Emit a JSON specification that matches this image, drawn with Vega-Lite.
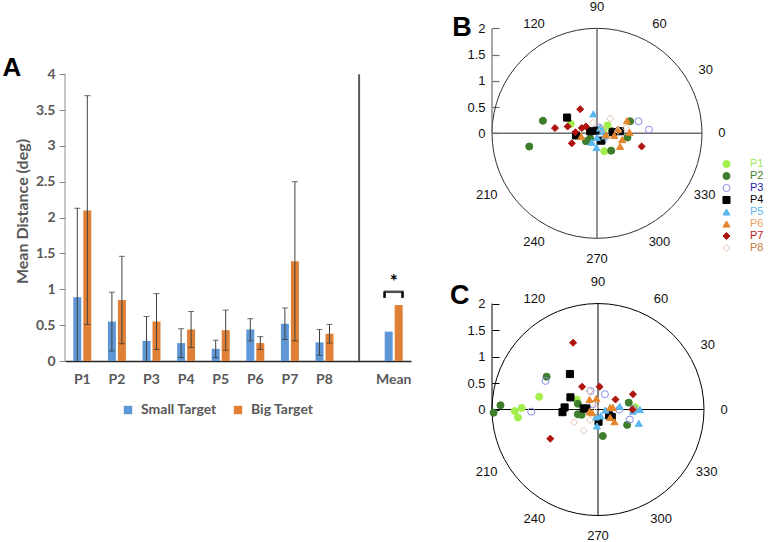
{
  "$schema": "https://vega.github.io/schema/vega-lite/v6.json",
  "padding": {"left": 2, "top": 1, "right": 0, "bottom": 0},
  "background": "white",
  "config": {"view": {"stroke": null}, "axis": {"grid": false}},
  "datasets": {
    "bars": [
      {"cat": "P1", "target": "Small Target", "value": 0.89, "lo": 0, "hi": 2.13},
      {"cat": "P1", "target": "Big Target", "value": 2.10, "lo": 0.51, "hi": 3.70},
      {"cat": "P2", "target": "Small Target", "value": 0.55, "lo": 0.14, "hi": 0.96},
      {"cat": "P2", "target": "Big Target", "value": 0.85, "lo": 0.24, "hi": 1.46},
      {"cat": "P3", "target": "Small Target", "value": 0.28, "lo": 0, "hi": 0.62},
      {"cat": "P3", "target": "Big Target", "value": 0.55, "lo": 0.16, "hi": 0.94},
      {"cat": "P4", "target": "Small Target", "value": 0.25, "lo": 0.05, "hi": 0.45},
      {"cat": "P4", "target": "Big Target", "value": 0.44, "lo": 0.19, "hi": 0.69},
      {"cat": "P5", "target": "Small Target", "value": 0.17, "lo": 0.05, "hi": 0.29},
      {"cat": "P5", "target": "Big Target", "value": 0.43, "lo": 0.15, "hi": 0.71},
      {"cat": "P6", "target": "Small Target", "value": 0.44, "lo": 0.28, "hi": 0.59},
      {"cat": "P6", "target": "Big Target", "value": 0.25, "lo": 0.16, "hi": 0.34},
      {"cat": "P7", "target": "Small Target", "value": 0.52, "lo": 0.30, "hi": 0.74},
      {"cat": "P7", "target": "Big Target", "value": 1.39, "lo": 0.28, "hi": 2.50},
      {"cat": "P8", "target": "Small Target", "value": 0.26, "lo": 0.08, "hi": 0.44},
      {"cat": "P8", "target": "Big Target", "value": 0.38, "lo": 0.25, "hi": 0.51},
      {"cat": "Mean", "target": "Small Target", "value": 0.41},
      {"cat": "Mean", "target": "Big Target", "value": 0.78}
    ],
    "ang": [
      {"t": "90", "x": 0, "y": 2.40},
      {"t": "120", "x": -1.2, "y": 2.09},
      {"t": "60", "x": 1.19, "y": 2.09},
      {"t": "30", "x": 2.07, "y": 1.21},
      {"t": "0", "x": 2.38, "y": 0},
      {"t": "330", "x": 2.05, "y": -1.17},
      {"t": "300", "x": 1.19, "y": -2.07},
      {"t": "270", "x": 0, "y": -2.39},
      {"t": "240", "x": -1.2, "y": -2.07},
      {"t": "210", "x": -2.1, "y": -1.17}
    ],
    "pts": [
      {"panel": "B", "p": "P1", "x": -0.50, "y": 0.18},
      {"panel": "B", "p": "P1", "x": 0.14, "y": -0.34},
      {"panel": "B", "p": "P1", "x": 0.20, "y": 0.15},
      {"panel": "B", "p": "P1", "x": 0.12, "y": 0.05},
      {"panel": "B", "p": "P2", "x": -1.03, "y": 0.24},
      {"panel": "B", "p": "P2", "x": -1.29, "y": -0.25},
      {"panel": "B", "p": "P2", "x": -0.21, "y": -0.15},
      {"panel": "B", "p": "P2", "x": -0.13, "y": -0.10},
      {"panel": "B", "p": "P2", "x": 0.27, "y": -0.33},
      {"panel": "B", "p": "P2", "x": 0.63, "y": 0.23},
      {"panel": "B", "p": "P2", "x": 0.58, "y": -0.08},
      {"panel": "B", "p": "P2", "x": 0.29, "y": 0.04},
      {"panel": "B", "p": "P3", "x": 0.79, "y": 0.23},
      {"panel": "B", "p": "P3", "x": 0.99, "y": 0.07},
      {"panel": "B", "p": "P3", "x": 0.04, "y": 0.11},
      {"panel": "B", "p": "P3", "x": 0.11, "y": -0.14},
      {"panel": "B", "p": "P3", "x": 0.05, "y": -0.05},
      {"panel": "B", "p": "P4", "x": -0.57, "y": 0.30},
      {"panel": "B", "p": "P4", "x": -0.40, "y": -0.04},
      {"panel": "B", "p": "P4", "x": -0.13, "y": 0.04},
      {"panel": "B", "p": "P4", "x": 0.08, "y": -0.14},
      {"panel": "B", "p": "P4", "x": 0.44, "y": 0.04},
      {"panel": "B", "p": "P4", "x": 0.30, "y": 0.02},
      {"panel": "B", "p": "P4", "x": 0.0, "y": 0.05},
      {"panel": "B", "p": "P5", "x": -0.07, "y": 0.37},
      {"panel": "B", "p": "P5", "x": -0.10, "y": -0.17},
      {"panel": "B", "p": "P5", "x": -0.01, "y": -0.27},
      {"panel": "B", "p": "P5", "x": 0.11, "y": 0.04},
      {"panel": "B", "p": "P5", "x": 0.0, "y": -0.08},
      {"panel": "B", "p": "P5", "x": 0.06, "y": 0.10},
      {"panel": "B", "p": "P5", "x": 0.15, "y": -0.05},
      {"panel": "B", "p": "P6", "x": -0.30, "y": -0.06},
      {"panel": "B", "p": "P6", "x": 0.57, "y": 0.24},
      {"panel": "B", "p": "P6", "x": 0.62, "y": 0.02},
      {"panel": "B", "p": "P6", "x": 0.48, "y": -0.12},
      {"panel": "B", "p": "P6", "x": 0.44, "y": -0.25},
      {"panel": "B", "p": "P6", "x": 0.33, "y": -0.04},
      {"panel": "B", "p": "P6", "x": 0.17, "y": -0.03},
      {"panel": "B", "p": "P6", "x": 0.40, "y": 0.08},
      {"panel": "B", "p": "P7", "x": -0.32, "y": 0.46},
      {"panel": "B", "p": "P7", "x": -0.80, "y": 0.10},
      {"panel": "B", "p": "P7", "x": -0.56, "y": 0.13},
      {"panel": "B", "p": "P7", "x": -0.48, "y": -0.19},
      {"panel": "B", "p": "P7", "x": -0.29, "y": 0.10},
      {"panel": "B", "p": "P7", "x": -0.21, "y": 0.13},
      {"panel": "B", "p": "P7", "x": 0.85, "y": -0.25},
      {"panel": "B", "p": "P7", "x": -0.41, "y": 0.02},
      {"panel": "B", "p": "P8", "x": -0.08, "y": 0.20},
      {"panel": "B", "p": "P8", "x": 0.25, "y": 0.28},
      {"panel": "B", "p": "P8", "x": 0.40, "y": 0.05},
      {"panel": "B", "p": "P8", "x": 0.10, "y": 0.08},
      {"panel": "B", "p": "P8", "x": 0.55, "y": 0.10},
      {"panel": "C", "p": "P1", "x": -1.11, "y": 0.24},
      {"panel": "C", "p": "P1", "x": -1.44, "y": 0.03},
      {"panel": "C", "p": "P1", "x": -1.57, "y": -0.03},
      {"panel": "C", "p": "P1", "x": -1.51, "y": -0.15},
      {"panel": "C", "p": "P1", "x": -0.40, "y": 0.19},
      {"panel": "C", "p": "P1", "x": 0.70, "y": 0.04},
      {"panel": "C", "p": "P2", "x": -1.97, "y": -0.06},
      {"panel": "C", "p": "P2", "x": -1.84, "y": 0.08},
      {"panel": "C", "p": "P2", "x": -0.97, "y": 0.62},
      {"panel": "C", "p": "P2", "x": -0.38, "y": 0.11},
      {"panel": "C", "p": "P2", "x": -0.38, "y": -0.09},
      {"panel": "C", "p": "P2", "x": -0.31, "y": -0.10},
      {"panel": "C", "p": "P2", "x": 0.09, "y": -0.50},
      {"panel": "C", "p": "P2", "x": 0.58, "y": 0.13},
      {"panel": "C", "p": "P2", "x": 0.55, "y": -0.29},
      {"panel": "C", "p": "P3", "x": -0.99, "y": 0.54},
      {"panel": "C", "p": "P3", "x": -1.26, "y": -0.04},
      {"panel": "C", "p": "P3", "x": -0.14, "y": 0.35},
      {"panel": "C", "p": "P3", "x": 0.13, "y": 0.29},
      {"panel": "C", "p": "P3", "x": 0.40, "y": 0.0},
      {"panel": "C", "p": "P3", "x": 0.60, "y": -0.19},
      {"panel": "C", "p": "P3", "x": 0.67, "y": 0.01},
      {"panel": "C", "p": "P3", "x": -0.10, "y": 0.10},
      {"panel": "C", "p": "P4", "x": -0.53, "y": 0.67},
      {"panel": "C", "p": "P4", "x": -0.52, "y": 0.23},
      {"panel": "C", "p": "P4", "x": -0.63, "y": 0.04},
      {"panel": "C", "p": "P4", "x": -0.67, "y": -0.05},
      {"panel": "C", "p": "P4", "x": -0.27, "y": 0.02},
      {"panel": "C", "p": "P4", "x": -0.22, "y": 0.02},
      {"panel": "C", "p": "P4", "x": 0.01, "y": -0.23},
      {"panel": "C", "p": "P4", "x": 0.21, "y": -0.11},
      {"panel": "C", "p": "P4", "x": 0.26, "y": -0.14},
      {"panel": "C", "p": "P5", "x": -0.04, "y": -0.14},
      {"panel": "C", "p": "P5", "x": -0.02, "y": -0.31},
      {"panel": "C", "p": "P5", "x": 0.14, "y": -0.01},
      {"panel": "C", "p": "P5", "x": 0.41, "y": 0.06},
      {"panel": "C", "p": "P5", "x": 0.66, "y": -0.03},
      {"panel": "C", "p": "P5", "x": 0.79, "y": 0.0},
      {"panel": "C", "p": "P5", "x": 0.77, "y": -0.26},
      {"panel": "C", "p": "P5", "x": 0.05, "y": -0.12},
      {"panel": "C", "p": "P6", "x": -0.16, "y": 0.19},
      {"panel": "C", "p": "P6", "x": -0.03, "y": 0.21},
      {"panel": "C", "p": "P6", "x": -0.16, "y": -0.04},
      {"panel": "C", "p": "P6", "x": -0.11, "y": -0.06},
      {"panel": "C", "p": "P6", "x": 0.23, "y": 0.04},
      {"panel": "C", "p": "P6", "x": 0.28, "y": 0.04},
      {"panel": "C", "p": "P6", "x": 0.31, "y": -0.23},
      {"panel": "C", "p": "P6", "x": 0.23, "y": -0.15},
      {"panel": "C", "p": "P7", "x": -0.47, "y": 1.26},
      {"panel": "C", "p": "P7", "x": -0.30, "y": 0.43},
      {"panel": "C", "p": "P7", "x": 0.03, "y": 0.43},
      {"panel": "C", "p": "P7", "x": 0.33, "y": 0.19},
      {"panel": "C", "p": "P7", "x": 0.66, "y": 0.29},
      {"panel": "C", "p": "P7", "x": 0.65, "y": 0.0},
      {"panel": "C", "p": "P7", "x": -0.90, "y": -0.55},
      {"panel": "C", "p": "P8", "x": -0.16, "y": 0.35},
      {"panel": "C", "p": "P8", "x": -0.45, "y": -0.24},
      {"panel": "C", "p": "P8", "x": -0.27, "y": -0.40},
      {"panel": "C", "p": "P8", "x": -0.15, "y": -0.20},
      {"panel": "C", "p": "P8", "x": -0.05, "y": 0.05}
    ]
  },
  "resolve": {"scale": {"color": "independent", "fill": "independent", "stroke": "independent", "shape": "independent"}},
  "spacing": 38,
  "hconcat": [
    {
      "width": 346,
      "height": 360,
      "title": {"text": "A", "anchor": "start", "frame": "bounds", "orient": "top", "baseline": "top", "offset": 0, "dx": -12, "dy": 80, "font": "Liberation Sans", "fontSize": 26, "fontWeight": "bold", "color": "#000000"},
      "layer": [
        {
          "data": {"name": "bars"},
          "mark": {"type": "bar"},
          "encoding": {
            "x": {"field": "cat", "type": "nominal", "title": null,
              "scale": {"domain": ["P1", "P2", "P3", "P4", "P5", "P6", "P7", "P8", " ", "Mean"], "paddingInner": 0, "paddingOuter": 0},
              "axis": {"ticks": false, "domainColor": "#262626", "domainWidth": 1.5, "labelFont": "Lato", "labelFontSize": 14, "labelFontWeight": "bold", "labelColor": "#595959", "labelPadding": 11, "labelAngle": 0}},
            "xOffset": {"field": "target", "type": "nominal", "scale": {"domain": ["Small Target", "Big Target"], "paddingInner": 0.2, "paddingOuter": 0.83}},
            "y": {"field": "value", "type": "quantitative", "scale": {"domain": [0, 5.02], "nice": false},
              "axis": {"values": [0, 0.5, 1, 1.5, 2, 2.5, 3, 3.5, 4], "format": "~g", "domain": false, "tickSize": 6, "tickColor": "#8c8c8c", "labelFont": "Lato", "labelFontSize": 14, "labelFontWeight": "bold", "labelColor": "#595959", "labelPadding": 4, "title": "Mean Distance (deg)", "titleFont": "Lato", "titleFontSize": 16, "titleFontWeight": "bold", "titleColor": "#595959", "titleY": 210, "titlePadding": 5}},
            "color": {"field": "target", "type": "nominal", "scale": {"domain": ["Small Target", "Big Target"], "range": ["#5f97d6", "#e08036"]},
              "legend": {"orient": "none", "legendX": 56, "legendY": 402, "direction": "horizontal", "title": null, "symbolType": "square", "symbolSize": 70, "symbolStrokeWidth": 0, "labelFont": "Lato", "labelFontSize": 14, "labelFontWeight": "bold", "labelColor": "#595959", "labelOffset": 6, "columnPadding": 14, "padding": 0}}
          }
        },
        {
          "data": {"name": "bars"},
          "transform": [{"filter": "datum.hi != null"}],
          "mark": {"type": "rule", "color": "#404040", "strokeWidth": 1},
          "encoding": {
            "x": {"field": "cat", "type": "nominal"},
            "xOffset": {"field": "target", "type": "nominal"},
            "y": {"field": "lo", "type": "quantitative"},
            "y2": {"field": "hi"}
          }
        },
        {
          "data": {"name": "bars"},
          "transform": [{"filter": "datum.hi != null"}],
          "mark": {"type": "tick", "orient": "horizontal", "size": 6, "thickness": 1, "color": "#303030"},
          "encoding": {
            "x": {"field": "cat", "type": "nominal"},
            "xOffset": {"field": "target", "type": "nominal"},
            "y": {"field": "hi", "type": "quantitative"}
          }
        },
        {
          "data": {"name": "bars"},
          "transform": [{"filter": "datum.hi != null && datum.lo > 0"}],
          "mark": {"type": "tick", "orient": "horizontal", "size": 6, "thickness": 1, "color": "#303030"},
          "encoding": {
            "x": {"field": "cat", "type": "nominal"},
            "xOffset": {"field": "target", "type": "nominal"},
            "y": {"field": "lo", "type": "quantitative"}
          }
        },
        {
          "data": {"values": [{}]},
          "mark": {"type": "rule", "color": "#595959", "strokeWidth": 2},
          "encoding": {"x": {"datum": " ", "type": "nominal"}, "y": {"datum": 0}, "y2": {"datum": 4}}
        },
        {
          "data": {"values": [{}]},
          "mark": {"type": "rule", "color": "#8c8c8c", "strokeWidth": 1},
          "encoding": {"x": {"datum": "P1", "type": "nominal", "bandPosition": 0}, "y": {"datum": 0}, "y2": {"datum": 4}}
        },
        {
          "data": {"values": [{"cat": "Mean", "lo": 0.88, "hi": 0.965}]},
          "mark": {"type": "rule", "color": "#000000", "strokeWidth": 2.5},
          "encoding": {
            "x": {"field": "cat", "type": "nominal", "bandPosition": 0.235},
            "y": {"field": "lo", "type": "quantitative"},
            "y2": {"field": "hi"}
          }
        },
        {
          "data": {"values": [{"cat": "Mean", "lo": 0.88, "hi": 0.965}]},
          "mark": {"type": "rule", "color": "#000000", "strokeWidth": 2.5},
          "encoding": {
            "x": {"field": "cat", "type": "nominal", "bandPosition": 0.755},
            "y": {"field": "lo", "type": "quantitative"},
            "y2": {"field": "hi"}
          }
        },
        {
          "data": {"values": [{"cat": "Mean", "v": 0.965}]},
          "mark": {"type": "tick", "orient": "horizontal", "size": 20, "thickness": 2.5, "color": "#000000"},
          "encoding": {"x": {"field": "cat", "type": "nominal"}, "y": {"field": "v", "type": "quantitative"}}
        },
        {
          "data": {"values": [{"cat": "Mean", "v": 1.1, "t": "*"}]},
          "mark": {"type": "text", "font": "Lato", "fontSize": 19, "fontWeight": "bold", "color": "#000000"},
          "encoding": {"x": {"field": "cat", "type": "nominal"}, "y": {"field": "v", "type": "quantitative"}, "text": {"field": "t"}}
        }
      ]
    },
    {
      "spacing": 10,
      "resolve": {"scale": {"fill": "independent", "stroke": "independent", "shape": "independent"}},
      "vconcat": [
        {
          "width": 241.5,
          "height": 263.6,
          "layer": [
            {
              "data": {"values": [{"x": 0, "y": 0}]},
              "mark": {"type": "point", "shape": "circle", "filled": false, "size": 44100, "stroke": "#333333", "strokeWidth": 1, "opacity": 1},
              "encoding": {
                "x": {"field": "x", "type": "quantitative", "scale": {"domain": [-2, 2.6], "nice": false, "zero": false}, "axis": null},
                "y": {"field": "y", "type": "quantitative", "scale": {"domain": [-2.5, 2.52], "nice": false, "zero": false},
                  "axis": {"values": [0, 0.5, 1, 1.5, 2], "labelExpr": "datum.value + ''", "domain": false, "title": null, "tickSize": -7, "tickColor": "#6e6e6e", "tickWidth": 1.2, "labelPadding": 14, "labelFont": "Liberation Sans", "labelFontSize": 13, "labelColor": "#111111"}}
              }
            },
            {
              "data": {"values": [{}]},
              "mark": {"type": "rule", "color": "#6e6e6e", "strokeWidth": 1.5},
              "encoding": {"x": {"datum": -2}, "x2": {"datum": 2}, "y": {"datum": 0}}
            },
            {
              "data": {"values": [{}]},
              "mark": {"type": "rule", "color": "#6e6e6e", "strokeWidth": 1.5},
              "encoding": {"x": {"datum": 0}, "y": {"datum": -2}, "y2": {"datum": 2}}
            },
            {
              "data": {"values": [{}]},
              "mark": {"type": "rule", "color": "#6e6e6e", "strokeWidth": 1.2},
              "encoding": {"x": {"datum": -2}, "y": {"datum": 0}, "y2": {"datum": 2}}
            },
            {
              "data": {"name": "ang"},
              "mark": {"type": "text", "font": "Liberation Sans", "fontSize": 13, "color": "#111111"},
              "encoding": {"x": {"field": "x", "type": "quantitative"}, "y": {"field": "y", "type": "quantitative"}, "text": {"field": "t"}}
            },
            {
              "data": {"values": [{"t": "B", "x": -2.57, "y": 2.0}]},
              "mark": {"type": "text", "font": "Liberation Sans", "fontSize": 27, "fontWeight": "bold", "color": "#000000"},
              "encoding": {"x": {"field": "x", "type": "quantitative"}, "y": {"field": "y", "type": "quantitative"}, "text": {"field": "t"}}
            },
            {
              "data": {"name": "pts"},
              "transform": [{"filter": "datum.panel == 'B'"}],
              "mark": {"type": "point", "size": 50, "strokeWidth": 1, "opacity": 1, "fillOpacity": 1},
              "encoding": {
                "x": {"field": "x", "type": "quantitative"},
                "y": {"field": "y", "type": "quantitative"},
                "fill": {"field": "p", "type": "nominal",
                  "scale": {"domain": ["P1", "P2", "P3", "P4", "P5", "P6", "P7", "P8"], "range": ["#a3ee4f", "#3e7d2b", "transparent", "#000000", "#5ab7ef", "#e5862b", "#b0140f", "transparent"]},
                  "legend": {"orient": "none", "legendX": 229, "legendY": 157, "title": null, "padding": 0, "symbolSize": 50, "symbolStrokeWidth": 1, "labelFont": "Liberation Sans", "labelFontSize": 11, "labelOffset": 18, "rowPadding": 0, "clipHeight": 12,
                    "labelColor": {"expr": "datum.label == 'P1' ? '#9fe857' : datum.label == 'P2' ? '#3f7f28' : datum.label == 'P3' ? '#1f1fb0' : datum.label == 'P4' ? '#000000' : datum.label == 'P5' ? '#5fb8f0' : datum.label == 'P6' ? '#eda15d' : datum.label == 'P7' ? '#c0171b' : '#c77a3a'"}}},
                "stroke": {"field": "p", "type": "nominal",
                  "scale": {"domain": ["P1", "P2", "P3", "P4", "P5", "P6", "P7", "P8"], "range": ["#a3ee4f", "#3e7d2b", "#8a8ae6", "#000000", "#5ab7ef", "#e5862b", "#b0140f", "#e2c0aa"]},
                  "legend": {"orient": "none", "legendX": 229, "legendY": 157, "title": null, "padding": 0, "symbolSize": 50, "symbolStrokeWidth": 1, "labelFont": "Liberation Sans", "labelFontSize": 11, "labelOffset": 18, "rowPadding": 0, "clipHeight": 12,
                    "labelColor": {"expr": "datum.label == 'P1' ? '#9fe857' : datum.label == 'P2' ? '#3f7f28' : datum.label == 'P3' ? '#1f1fb0' : datum.label == 'P4' ? '#000000' : datum.label == 'P5' ? '#5fb8f0' : datum.label == 'P6' ? '#eda15d' : datum.label == 'P7' ? '#c0171b' : '#c77a3a'"}}},
                "shape": {"field": "p", "type": "nominal",
                  "scale": {"domain": ["P1", "P2", "P3", "P4", "P5", "P6", "P7", "P8"], "range": ["circle", "circle", "circle", "square", "triangle-up", "triangle-up", "diamond", "diamond"]},
                  "legend": {"orient": "none", "legendX": 229, "legendY": 157, "title": null, "padding": 0, "symbolSize": 50, "symbolStrokeWidth": 1, "labelFont": "Liberation Sans", "labelFontSize": 11, "labelOffset": 18, "rowPadding": 0, "clipHeight": 12,
                    "labelColor": {"expr": "datum.label == 'P1' ? '#9fe857' : datum.label == 'P2' ? '#3f7f28' : datum.label == 'P3' ? '#1f1fb0' : datum.label == 'P4' ? '#000000' : datum.label == 'P5' ? '#5fb8f0' : datum.label == 'P6' ? '#eda15d' : datum.label == 'P7' ? '#c0171b' : '#c77a3a'"}}}
              }
            }
          ]
        },
        {
          "width": 243.8,
          "height": 266,
          "layer": [
            {
              "data": {"values": [{"x": 0, "y": 0}]},
              "mark": {"type": "point", "shape": "circle", "filled": false, "size": 44944, "stroke": "#000000", "strokeWidth": 1, "opacity": 1},
              "encoding": {
                "x": {"field": "x", "type": "quantitative", "scale": {"domain": [-2, 2.6], "nice": false, "zero": false}, "axis": null},
                "y": {"field": "y", "type": "quantitative", "scale": {"domain": [-2.5, 2.52], "nice": false, "zero": false},
                  "axis": {"values": [0, 0.5, 1, 1.5, 2], "labelExpr": "datum.value + ''", "domain": false, "title": null, "tickSize": -7, "tickColor": "#000000", "tickWidth": 1, "labelPadding": 14, "labelFont": "Liberation Sans", "labelFontSize": 13, "labelColor": "#111111"}}
              }
            },
            {
              "data": {"values": [{}]},
              "mark": {"type": "rule", "color": "#000000", "strokeWidth": 1},
              "encoding": {"x": {"datum": -2}, "x2": {"datum": 2}, "y": {"datum": 0}}
            },
            {
              "data": {"values": [{}]},
              "mark": {"type": "rule", "color": "#000000", "strokeWidth": 1},
              "encoding": {"x": {"datum": 0}, "y": {"datum": -2}, "y2": {"datum": 2}}
            },
            {
              "data": {"values": [{}]},
              "mark": {"type": "rule", "color": "#000000", "strokeWidth": 1},
              "encoding": {"x": {"datum": -2}, "y": {"datum": 0}, "y2": {"datum": 2}}
            },
            {
              "data": {"name": "ang"},
              "mark": {"type": "text", "font": "Liberation Sans", "fontSize": 13, "color": "#111111"},
              "encoding": {"x": {"field": "x", "type": "quantitative"}, "y": {"field": "y", "type": "quantitative"}, "text": {"field": "t"}}
            },
            {
              "data": {"values": [{"t": "C", "x": -2.61, "y": 2.14}]},
              "mark": {"type": "text", "font": "Liberation Sans", "fontSize": 27, "fontWeight": "bold", "color": "#000000"},
              "encoding": {"x": {"field": "x", "type": "quantitative"}, "y": {"field": "y", "type": "quantitative"}, "text": {"field": "t"}}
            },
            {
              "data": {"name": "pts"},
              "transform": [{"filter": "datum.panel == 'C'"}],
              "mark": {"type": "point", "size": 50, "strokeWidth": 1, "opacity": 1, "fillOpacity": 1},
              "encoding": {
                "x": {"field": "x", "type": "quantitative"},
                "y": {"field": "y", "type": "quantitative"},
                "shape": {"field": "p", "type": "nominal", "legend": null,
                  "scale": {"domain": ["P1", "P2", "P3", "P4", "P5", "P6", "P7", "P8"], "range": ["circle", "circle", "circle", "square", "triangle-up", "triangle-up", "diamond", "diamond"]}},
                "stroke": {"field": "p", "type": "nominal", "legend": null,
                  "scale": {"domain": ["P1", "P2", "P3", "P4", "P5", "P6", "P7", "P8"], "range": ["#a3ee4f", "#3e7d2b", "#8a8ae6", "#000000", "#5ab7ef", "#e5862b", "#b0140f", "#e2c0aa"]}},
                "fill": {"field": "p", "type": "nominal", "legend": null,
                  "scale": {"domain": ["P1", "P2", "P3", "P4", "P5", "P6", "P7", "P8"], "range": ["#a3ee4f", "#3e7d2b", "transparent", "#000000", "#5ab7ef", "#e5862b", "#b0140f", "transparent"]}}
              }
            }
          ]
        }
      ]
    }
  ]
}
